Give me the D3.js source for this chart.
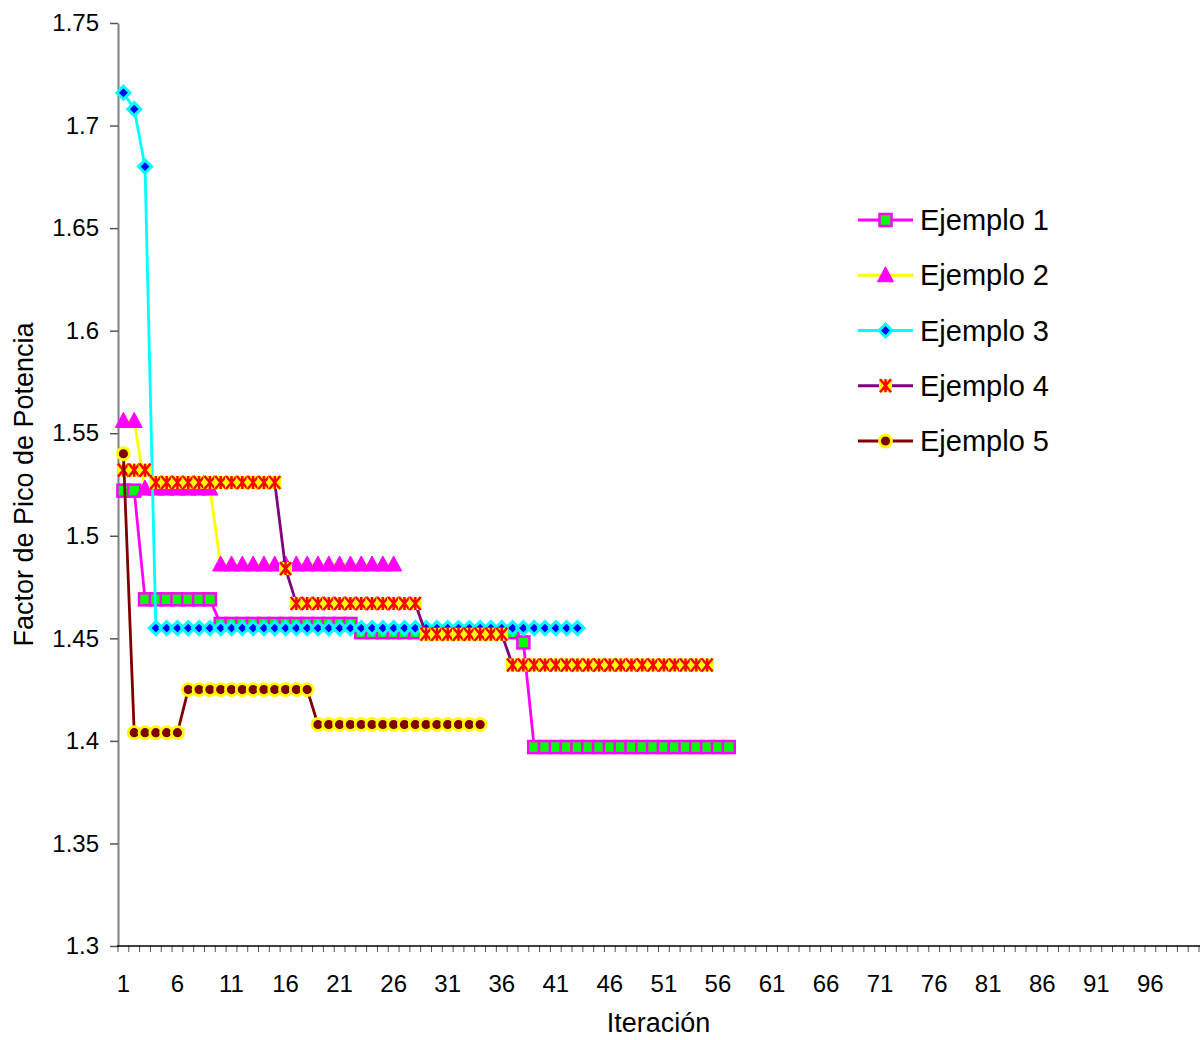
<!DOCTYPE html>
<html>
<head>
<meta charset="utf-8">
<script src="https://cdn.jsdelivr.net/npm/d3@7"></script>
<style>
  html, body { margin: 0; padding: 0; background: #fff; }
  svg { display: block; font-family: "Liberation Sans", Arial, sans-serif; }
</style>
</head>
<body>
<svg id="chart" width="1204" height="1040"></svg>
<script>
// ---- data ----
const categories = d3.range(1, 101); // iterations 1..100
const xTickLabels = ["1","6","11","16","21","26","31","36","41","46","51","56","61","66","71","76","81","86","91","96"];
const yTickValues = [1.3, 1.35, 1.4, 1.45, 1.5, 1.55, 1.6, 1.65, 1.7, 1.75];
const yTickLabels = ["1.3","1.35","1.4","1.45","1.5","1.55","1.6","1.65","1.7","1.75"];
const seriesNames = ["Ejemplo 1","Ejemplo 2","Ejemplo 3","Ejemplo 4","Ejemplo 5"];

const ejemplo1 = [1.522,1.522,
  1.469,1.469,1.469,1.469,1.469,1.469,1.469,
  1.457,1.457,1.457,1.457,1.457,1.457,1.457,1.457,1.457,1.457,1.457,1.457,1.457,
  1.453,1.453,1.453,1.453,1.453,1.453,1.453,1.453,1.453,1.453,1.453,1.453,1.453,1.453,1.453,
  1.448,
  1.397,1.397,1.397,1.397,1.397,1.397,1.397,1.397,1.397,1.397,1.397,1.397,1.397,1.397,1.397,1.397,1.397,1.397,1.397];
const ejemplo2 = [1.556,1.556,
  1.523,1.523,1.523,1.523,1.523,1.523,1.523,
  1.486,1.486,1.486,1.486,1.486,1.486,1.486,1.486,1.486,1.486,1.486,1.486,1.486,1.486,1.486,1.486,1.486];
const ejemplo3 = [1.716,1.708,1.680,
  1.455,1.455,1.455,1.455,1.455,1.455,1.455,1.455,1.455,1.455,
  1.455,1.455,1.455,1.455,1.455,1.455,1.455,1.455,1.455,1.455,
  1.455,1.455,1.455,1.455,1.455,1.455,1.455,1.455,1.455,1.455,
  1.455,1.455,1.455,1.455,1.455,1.455,1.455,1.455,1.455,1.455];
const ejemplo4 = [1.532,1.532,1.532,
  1.526,1.526,1.526,1.526,1.526,1.526,1.526,1.526,1.526,1.526,1.526,1.526,
  1.484,
  1.467,1.467,1.467,1.467,1.467,1.467,1.467,1.467,1.467,1.467,1.467,1.467,
  1.452,1.452,1.452,1.452,1.452,1.452,1.452,1.452,
  1.437,1.437,1.437,1.437,1.437,1.437,1.437,1.437,1.437,1.437,1.437,1.437,1.437,1.437,1.437,1.437,1.437,1.437,1.437];
const ejemplo5 = [1.540,
  1.404,1.404,1.404,1.404,1.404,
  1.425,1.425,1.425,1.425,1.425,1.425,1.425,1.425,1.425,1.425,1.425,1.425,
  1.408,1.408,1.408,1.408,1.408,1.408,1.408,1.408,1.408,1.408,1.408,1.408,1.408,1.408,1.408,1.408];

const seriesValues = [ejemplo1, ejemplo2, ejemplo3, ejemplo4, ejemplo5];

// ---- styles ----
const styles = [
  { line: "#ff00ff", marker: "square" },
  { line: "#ffff00", marker: "triangle" },
  { line: "#00ffff", marker: "diamond" },
  { line: "#800080", marker: "star" },
  { line: "#800000", marker: "circle" }
];

const svg = d3.select("#chart");
const pLeft = 118, pRight = 1199, pTop = 23, pBottom = 946;

const x = d3.scaleBand().domain(categories).range([pLeft, pRight]).paddingInner(0).paddingOuter(0);
const y = d3.scaleLinear().domain([1.3, 1.75]).range([pBottom, pTop]);
const cx = i => x(i) + x.bandwidth() / 2;

// ---- axes ----
const yAxis = d3.axisLeft(y).tickValues(yTickValues).tickSize(8).tickSizeOuter(0)
  .tickFormat((d, i) => yTickLabels[i]);
const gy = svg.append("g").attr("transform", `translate(${pLeft},0)`).call(yAxis);
gy.select(".domain").attr("stroke", "#808080").attr("stroke-width", 2);
gy.selectAll(".tick line").attr("stroke", "#555").attr("stroke-width", 1.5);
gy.selectAll(".tick text").attr("font-size", 24).attr("fill", "#000")
  .attr("font-family", "Liberation Sans, Arial, sans-serif").attr("x", -19);

const boundaries = categories.map(c => x(c)).concat([pRight]);
const gx = svg.append("g");
gx.selectAll("line.tk").data(boundaries).enter().append("line")
  .attr("x1", d => d).attr("x2", d => d).attr("y1", pBottom).attr("y2", pBottom + 6)
  .attr("stroke", "#555").attr("stroke-width", 1);
const xAxis = d3.axisBottom(x).tickValues(xTickLabels.map(Number)).tickSize(0).tickSizeOuter(0)
  .tickFormat((d, i) => xTickLabels[i]);
const gxa = svg.append("g").attr("transform", `translate(0,${pBottom})`).call(xAxis);
gxa.select(".domain").remove();
gxa.selectAll(".tick text").attr("font-size", 24).attr("fill", "#000")
  .attr("font-family", "Liberation Sans, Arial, sans-serif").attr("dy", 0).attr("y", 46);
svg.append("line").attr("x1", pLeft - 1).attr("x2", pRight + 1).attr("y1", pBottom).attr("y2", pBottom)
  .attr("stroke", "#000").attr("stroke-width", 1.5);

svg.append("text").attr("x", (pLeft + pRight) / 2).attr("y", 1032)
  .attr("text-anchor", "middle").attr("font-size", 27).text("Iteración");
svg.append("text").attr("transform", `translate(33,${(pTop + pBottom) / 2}) rotate(-90)`)
  .attr("text-anchor", "middle").attr("font-size", 27).text("Factor de Pico de Potencia");

// ---- markers ----
function drawMarker(g, type, px, py) {
  if (type === "square") {
    g.append("rect").attr("x", px - 6).attr("y", py - 6).attr("width", 12).attr("height", 12)
      .attr("fill", "#00ff00").attr("stroke", "#ff00ff").attr("stroke-width", 2.5);
  } else if (type === "triangle") {
    g.append("path").attr("d", `M${px},${py - 8.5} L${px + 8},${py + 6.5} L${px - 8},${py + 6.5} Z`)
      .attr("fill", "#ff00ff").attr("stroke", "#ff00ff").attr("stroke-width", 1);
  } else if (type === "diamond") {
    g.append("path").attr("d", `M${px},${py - 6.5} L${px + 6.5},${py} L${px},${py + 6.5} L${px - 6.5},${py} Z`)
      .attr("fill", "#0000ff").attr("stroke", "#00ffff").attr("stroke-width", 3);
  } else if (type === "star") {
    g.append("rect").attr("x", px - 6.5).attr("y", py - 6.5).attr("width", 13).attr("height", 13)
      .attr("fill", "#ffff00");
    g.append("path").attr("d",
      `M${px - 5.5},${py - 6.5} L${px + 5.5},${py + 6.5} M${px + 5.5},${py - 6.5} L${px - 5.5},${py + 6.5} M${px},${py - 6.5} L${px},${py + 6.5}`)
      .attr("stroke", "#ff0000").attr("stroke-width", 2.5).attr("fill", "none");
  } else if (type === "circle") {
    g.append("circle").attr("cx", px).attr("cy", py).attr("r", 6)
      .attr("fill", "#800000").attr("stroke", "#ffff00").attr("stroke-width", 2.8);
  }
}

// ---- series ----
const line = d3.line().x((d, i) => cx(categories[i])).y(d => y(d));
seriesValues.forEach((vals, s) => {
  const g = svg.append("g");
  g.append("path").attr("d", line(vals)).attr("fill", "none")
    .attr("stroke", styles[s].line).attr("stroke-width", 2.8);
  vals.forEach((v, i) => drawMarker(g, styles[s].marker, cx(categories[i]), y(v)));
});

// ---- legend ----
const legendRows = d3.scaleLinear().domain([0, 4]).range([220, 441]);
seriesNames.forEach((name, s) => {
  const ly = legendRows(s);
  const g = svg.append("g");
  g.append("line").attr("x1", 858).attr("x2", 913).attr("y1", ly).attr("y2", ly)
    .attr("stroke", styles[s].line).attr("stroke-width", 2.8);
  drawMarker(g, styles[s].marker, 885.5, ly);
  g.append("text").attr("x", 920).attr("y", ly).attr("dy", "0.35em")
    .attr("font-size", 29).attr("fill", "#000").text(name);
});
</script>
</body>
</html>
